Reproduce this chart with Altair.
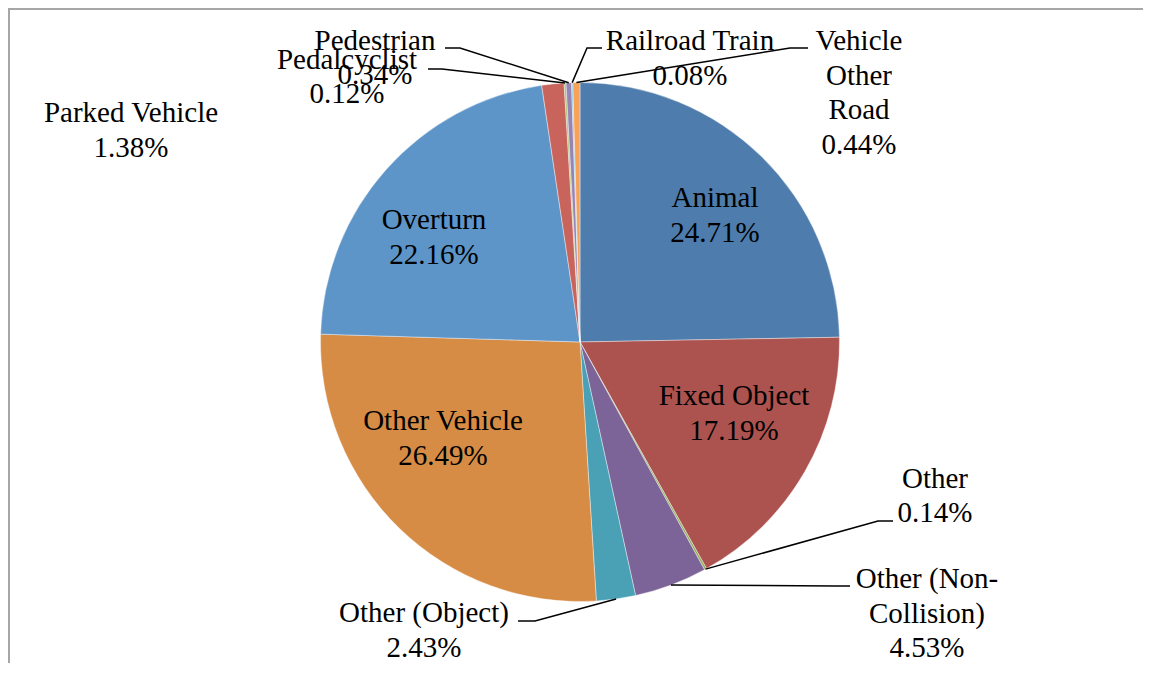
import math
import altair as alt
import pandas as pd

# ---- data ----
names = ["Animal", "Fixed Object", "Other", "Other (Non-Collision)", "Other (Object)",
         "Other Vehicle", "Overturn", "Parked Vehicle", "Pedalcyclist", "Pedestrian",
         "Railroad Train", "Vehicle Other Road"]
values = [24.71, 17.19, 0.14, 4.53, 2.43, 26.49, 22.16, 1.38, 0.12, 0.34, 0.08, 0.44]
label_texts = ["Animal\n24.71%", "Fixed Object\n17.19%", "Other\n0.14%",
               "Other (Non-\nCollision)\n4.53%", "Other (Object)\n2.43%",
               "Other Vehicle\n26.49%", "Overturn\n22.16%", "Parked Vehicle\n1.38%",
               "Pedalcyclist\n0.12%", "Pedestrian\n0.34%", "Railroad Train\n0.08%",
               "Vehicle\nOther\nRoad\n0.44%"]
colors = ["#4E7CAC", "#AD534F", "#93AE5E", "#7D6498", "#4AA0B5", "#D68C45",
          "#5E95C8", "#C9645D", "#A8C46E", "#9784B5", "#6EC0DA", "#F7A256"]

# ---- layout (svg pixels; page = svg + 8) ----
W, H = 1135, 655
OFF = 8
CX, CY, R = 580 - OFF, 342 - OFF, 259.5
FONT = "'Liberation Serif', 'Times New Roman', Times, 'DejaVu Serif', serif"
FS = 29
LH = 34.5

# label anchor: (center x, first-line baseline y) in page pixels
label_pos = {
    "Animal": (715, 207), "Fixed Object": (734, 405), "Other": (935, 487.5),
    "Other (Non-Collision)": (927, 588), "Other (Object)": (424, 622),
    "Other Vehicle": (443, 430), "Overturn": (434, 229), "Parked Vehicle": (131, 122),
    "Pedalcyclist": (347, 68.5), "Pedestrian": (375, 49.5),
    "Railroad Train": (690, 50), "Vehicle Other Road": (859, 50),
}
# leader lines: (elbow, end) in page pixels
leaders = {
    "Pedestrian": ((460, 48), (445, 48)),
    "Pedalcyclist": ((442, 69), (428, 69)),
    "Railroad Train": ((587, 48), (602, 48)),
    "Vehicle Other Road": ((790, 48), (808, 48)),
    "Other": ((878, 521), (893, 521)),
    "Other (Non-Collision)": ((836, 586), (850, 586)),
    "Other (Object)": ((535, 621), (518, 621)),
}

pie_df = pd.DataFrame({"name": names, "value": values, "idx": list(range(len(names)))})

total = sum(values)
cum = 0.0
mid_angle = {}
for n, v in zip(names, values):
    mid_angle[n] = (cum + v / 2) / total * 2 * math.pi
    cum += v

rows = []
for n, (elb, end) in leaders.items():
    a = mid_angle[n]
    pts = [(CX + R * math.sin(a), CY - R * math.cos(a)),
           (elb[0] - OFF, elb[1] - OFF), (end[0] - OFF, end[1] - OFF)]
    for k, (px, py) in enumerate(pts):
        rows.append({"name": n, "k": k, "px": px, "py": py})
lead_df = pd.DataFrame(rows)

lab_df = pd.DataFrame({
    "name": names,
    "text": label_texts,
    "px": [label_pos[n][0] - OFF for n in names],
    "py": [label_pos[n][1] - OFF for n in names],
})

xs = alt.Scale(domain=[0, W], range=[0, W])
ys = alt.Scale(domain=[0, H], range=[0, H])

border_df = pd.DataFrame({"k": [0, 1, 2], "px": [1, 1, W + 20], "py": [H + 20, 1, 1]})
border = alt.Chart(border_df).mark_line(color="#A6A6A6", strokeWidth=2, clip=False).encode(
    x=alt.X("px:Q", scale=xs, axis=None),
    y=alt.Y("py:Q", scale=ys, axis=None),
    order="k:Q",
)

pie = alt.Chart(pie_df).mark_arc(outerRadius=R, stroke="white", strokeWidth=0.4).encode(
    theta=alt.Theta("value:Q", stack=True),
    order=alt.Order("idx:Q"),
    color=alt.Color("name:N", scale=alt.Scale(domain=names, range=colors), legend=None),
    x=alt.value(CX),
    y=alt.value(CY),
)

lines = alt.Chart(lead_df).mark_line(color="black", strokeWidth=1.5).encode(
    x=alt.X("px:Q", scale=xs, axis=None),
    y=alt.Y("py:Q", scale=ys, axis=None),
    detail="name:N",
    order="k:Q",
)

labels = alt.Chart(lab_df).mark_text(
    font=FONT, fontSize=FS, lineHeight=LH, lineBreak="\n",
    align="center", baseline="alphabetic", color="black",
).encode(
    x=alt.X("px:Q", scale=xs, axis=None),
    y=alt.Y("py:Q", scale=ys, axis=None),
    text="text:N",
)

chart = alt.layer(border, pie, lines, labels).properties(
    width=W, height=H, padding=0, autosize=alt.AutoSizeParams(type="none"),
    background="white",
).configure_view(stroke=None)

chart.save("out.html", embed_options={"renderer": "svg", "actions": False})
